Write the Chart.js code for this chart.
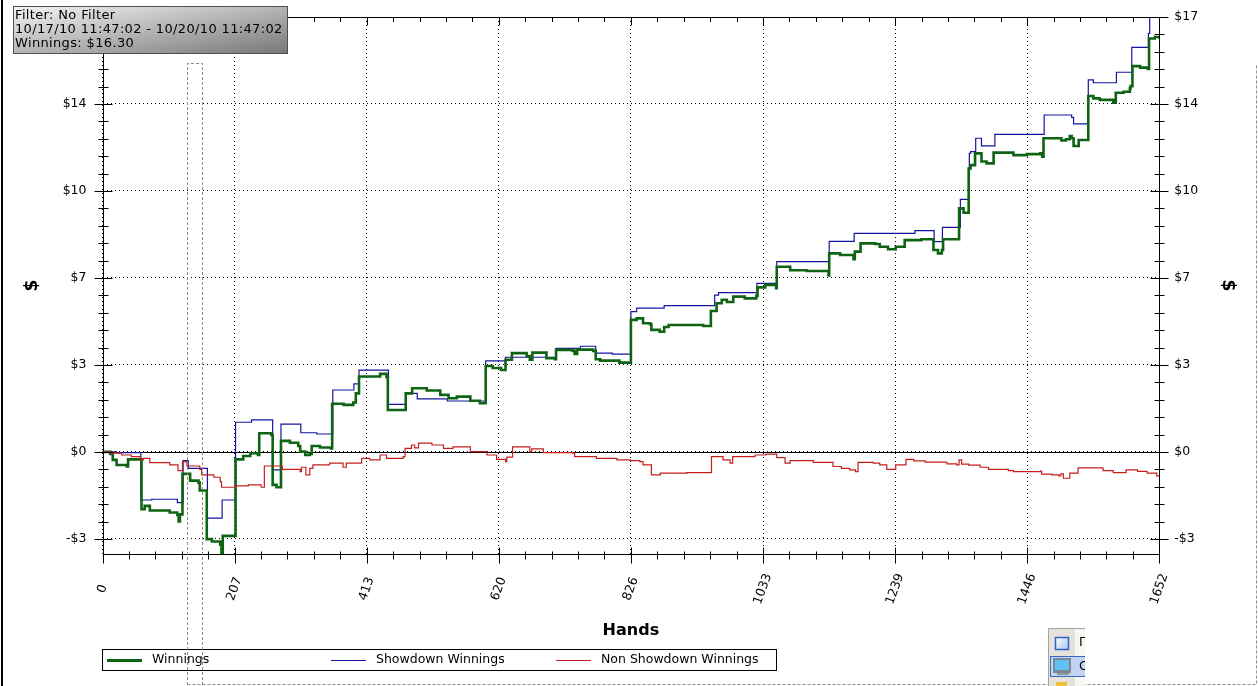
<!DOCTYPE html>
<html lang="en">
<head>
<meta charset="utf-8">
<title>Winnings graph</title>
<script src="https://cdn.jsdelivr.net/npm/chart.js"></script>
<style>
  html, body { margin: 0; padding: 0; background: #fff; }
  #wrap { position: relative; width: 1258px; height: 686px; }
</style>
</head>
<body>
<div id="wrap"><canvas id="graph"></canvas></div>
<script>
// values: hand number where a level starts, dollars
const winHands = [0, 8, 12, 16, 22, 38, 40, 61, 66, 74, 105, 117, 119, 121, 125, 137, 150, 152, 163, 171,
  184, 186, 188, 208, 220, 231, 243, 245, 264, 266, 272, 279, 293, 306, 309, 317, 324, 327, 340, 357,
  359, 377, 392, 396, 401, 434, 444, 446, 474, 484, 507, 528, 541, 554, 575, 590, 599, 610, 623, 630,
  640, 663, 668, 672, 694, 707, 709, 735, 738, 742, 767, 771, 778, 808, 826, 835, 845, 856, 858, 871,
  878, 885, 913, 939, 951, 960, 968, 976, 986, 1004, 1022, 1024, 1036, 1053, 1054, 1075, 1101, 1135, 1136, 1153,
  1174, 1176, 1185, 1208, 1215, 1228, 1240, 1254, 1280, 1299, 1306, 1312, 1314, 1339, 1346, 1354, 1357, 1364, 1374, 1382,
  1393, 1424, 1445, 1466, 1469, 1471, 1499, 1506, 1512, 1515, 1518, 1526, 1541, 1549, 1559, 1580, 1584, 1596, 1606, 1607,
  1610, 1622, 1634, 1636, 1645, 1652];
const winValues = [0, 0, -0.08, -0.31, -0.51, -0.57, -0.29, -2.24, -2.11, -2.29, -2.37, -2.46, -2.72, -2.44, -0.86, -1.12, -1.2, -1.51, -3.41, -3.5,
  -3.63, -3.96, -3.28, -0.29, -0.16, -0.05, -0.12, 0.73, 0.66, -1.29, -1.38, 0.43, 0.36, 0.23, 0.01, -0.12, -0.08, 0.23, 0.17, 0.14,
  1.88, 1.84, 1.93, 2.29, 2.95, 3.05, 2.93, 1.64, 2.29, 2.49, 2.4, 2.23, 2.1, 2.16, 2.0, 1.9, 3.36, 3.28, 3.2, 3.6,
  3.86, 3.75, 3.6, 3.88, 3.66, 3.62, 3.99, 3.95, 3.83, 4.0, 3.95, 3.62, 3.57, 3.49, 5.16, 5.22, 5.03, 4.99, 4.77, 4.7,
  4.88, 4.96, 4.96, 4.92, 5.51, 5.81, 5.95, 5.86, 6.07, 6.0, 6.1, 6.43, 6.53, 6.4, 7.24, 7.1, 7.07, 6.9, 7.76, 7.7,
  7.53, 7.83, 8.15, 8.13, 8.02, 7.92, 8.02, 8.28, 8.31, 7.89, 7.76, 7.89, 8.31, 9.52, 9.35, 11.08, 11.21, 11.67, 11.35, 11.28,
  11.7, 11.6, 11.64, 11.67, 11.54, 12.26, 12.17, 12.22, 12.35, 12.26, 11.96, 12.19, 13.91, 13.82, 13.76, 13.65, 14.04, 14.08, 14.21, 14.3,
  15.08, 15.02, 14.97, 16.16, 16.22, 16.15];

const sdHands = [0, 22, 60, 77, 117, 126, 134, 164, 187, 208, 233, 266, 279, 310, 335, 360, 393, 401, 447, 474,
  492, 539, 599, 630, 709, 747, 771, 797, 826, 835, 878, 957, 963, 1023, 1054, 1136, 1175, 1270, 1300, 1313,
  1341, 1355, 1357, 1365, 1374, 1395, 1472, 1515, 1518, 1541, 1549, 1585, 1609, 1635, 1637, 1652];
const sdValues = [0, -0.03, -1.88, -1.85, -1.98, -0.34, -0.64, -2.59, -1.88, 1.16, 1.25, -0.7, 1.09, 0.75, 0.7, 2.42, 2.66, 3.2, 1.86, 2.29,
  2.07, 1.99, 3.56, 3.7, 4.05, 4.13, 3.86, 3.82, 5.48, 5.62, 5.72, 6.13, 6.23, 6.59, 7.44, 8.23, 8.54, 8.65, 8.22, 8.78,
  9.87, 11.67, 11.74, 12.26, 11.96, 12.41, 13.17, 13.08, 12.82, 14.54, 14.43, 14.84, 15.81, 16.36, 17, 17];

const nsdHands = [0, 11, 30, 45, 59, 64, 74, 105, 118, 125, 132, 152, 155, 174, 184, 186, 208, 228, 248, 253,
  281, 309, 311, 318, 324, 329, 355, 376, 381, 405, 418, 434, 444, 470, 473, 483, 488, 494, 515, 533,
  548, 575, 601, 616, 630, 632, 641, 668, 671, 689, 735, 738, 772, 804, 825, 840, 845, 858, 872, 913,
  952, 970, 981, 985, 1020, 1037, 1054, 1067, 1075, 1111, 1142, 1155, 1168, 1177, 1181, 1205, 1215, 1226, 1240, 1256,
  1268, 1286, 1320, 1335, 1339, 1343, 1354, 1372, 1385, 1416, 1424, 1466, 1468, 1484, 1495, 1498, 1502, 1512, 1525, 1564,
  1580, 1600, 1618, 1633, 1648, 1652];
const nsdValues = [0, -0.05, -0.12, -0.18, -0.31, -0.25, -0.42, -0.51, -0.73, -0.39, -0.55, -0.68, -0.9, -0.99, -1.16, -1.38, -1.33, -1.29, -1.38, -0.55,
  -0.68, -0.77, -0.6, -0.9, -0.64, -0.51, -0.44, -0.6, -0.44, -0.25, -0.31, -0.12, -0.25, -0.18, 0.14, 0.27, 0.16, 0.34, 0.27, 0.14,
  0.2, 0.01, -0.12, -0.29, -0.38, -0.2, 0.2, 0.01, 0.12, -0.03, -0.05, -0.18, -0.25, -0.31, -0.34, -0.38, -0.51, -0.9, -0.83, -0.81,
  -0.18, -0.31, -0.44, -0.18, -0.12, -0.09, -0.22, -0.44, -0.34, -0.41, -0.57, -0.64, -0.7, -0.77, -0.41, -0.44, -0.51, -0.68, -0.51, -0.29,
  -0.35, -0.4, -0.47, -0.51, -0.31, -0.48, -0.52, -0.6, -0.68, -0.73, -0.77, -0.75, -0.87, -0.9, -0.94, -0.86, -1.03, -0.83, -0.62, -0.73,
  -0.81, -0.7, -0.76, -0.83, -0.94, -0.94];

const xTickValues = [0, 206.5, 413, 619.5, 826, 1032.5, 1239, 1445.5, 1652];
const xTickLabels = ['0', '207', '413', '620', '826', '1033', '1239', '1446', '1652'];
const yTickValues = [-3.4, 0, 3.4, 6.8, 10.2, 13.6, 17];
const yTickLabels = ['-$3', '$0', '$3', '$7', '$10', '$14', '$17'];
const minorPerMajor = 5;

const seriesNames = ['Winnings', 'Showdown Winnings', 'Non Showdown Winnings'];
const infoLines = ['Filter: No Filter', '10/17/10 11:47:02 - 10/20/10 11:47:02', 'Winnings: $16.30'];

const FONT = '"DejaVu Sans", Verdana, sans-serif';
const GREEN = '#0f6414', BLUE = '#1414a0', RED = '#c41e1e';

function points(xs, ys) { return xs.map((x, i) => ({ x: x, y: ys[i] })); }
function fixedTicks(values) { return scale => { scale.ticks = values.map(v => ({ value: v })); }; }

const decorations = {
  id: 'decorations',
  beforeDraw(chart) {
    const ctx = chart.ctx;
    ctx.save();
    ctx.fillStyle = '#fff';
    ctx.fillRect(0, 0, chart.width, chart.height);
    ctx.restore();
  },
  beforeDatasetsDraw(chart) {
    // solid zero line
    const { ctx, chartArea: a, scales: { y } } = chart;
    const py = Math.round(y.getPixelForValue(0)) + 0.5;
    ctx.save();
    ctx.strokeStyle = '#000';
    ctx.lineWidth = 1;
    ctx.beginPath();
    ctx.moveTo(a.left, py);
    ctx.lineTo(a.right, py);
    ctx.stroke();
    ctx.restore();
  },
  afterDraw(chart) {
    const { ctx, chartArea: a, scales: { x, y } } = chart;
    const L = Math.round(a.left) + 0.5, R = Math.round(a.right) + 0.5;
    const T = Math.round(a.top) + 0.5, B = Math.round(a.bottom) + 0.5;
    ctx.save();

    // plot frame
    ctx.strokeStyle = '#000';
    ctx.lineWidth = 1;
    ctx.strokeRect(L, T, R - L, B - T);

    // major and minor tick marks
    ctx.beginPath();
    const yStep = (yTickValues[1] - yTickValues[0]) / minorPerMajor;
    for (let k = Math.ceil(y.min / yStep - 1e-6); k * yStep <= y.max + 1e-6; k++) {
      const py = Math.round(y.getPixelForValue(k * yStep)) + 0.5;
      const len = k % minorPerMajor === 0 ? 9 : 5;
      ctx.moveTo(L - len, py); ctx.lineTo(L + len, py);
      ctx.moveTo(R - len, py); ctx.lineTo(R + len, py);
    }
    const xStep = (xTickValues[1] - xTickValues[0]) / minorPerMajor;
    for (let k = 0; k * xStep <= x.max + 1e-6; k++) {
      const px = Math.round(x.getPixelForValue(k * xStep)) + 0.5;
      const major = k % minorPerMajor === 0;
      ctx.moveTo(px, B - (major ? 7 : 3)); ctx.lineTo(px, B + (major ? 9 : 5));
      ctx.moveTo(px, T); ctx.lineTo(px, T + (major ? 8 : 4.5));
    }
    ctx.stroke();

    // rotated hand labels
    ctx.fillStyle = '#000';
    ctx.font = '12.5px ' + FONT;
    ctx.textAlign = 'center';
    ctx.textBaseline = 'middle';
    x.ticks.forEach((t, i) => {
      ctx.save();
      ctx.translate(x.getPixelForValue(t.value), 589);
      ctx.rotate(-70 * Math.PI / 180);
      ctx.fillText(xTickLabels[i], 0, 0);
      ctx.restore();
    });

    // legend box
    ctx.strokeStyle = '#000';
    ctx.strokeRect(102.5, 649.5, 674, 21);
    const slots = [107, 331, 556];
    ctx.textAlign = 'left';
    chart.data.datasets.forEach((ds, i) => {
      ctx.beginPath();
      ctx.strokeStyle = ds.borderColor;
      ctx.lineWidth = i === 0 ? 3 : 1;
      ctx.moveTo(slots[i], 660.5);
      ctx.lineTo(slots[i] + 35, 660.5);
      ctx.stroke();
      ctx.fillStyle = '#000';
      ctx.fillText(ds.label, slots[i] + 45, 660);
    });

    // window edge on the left
    ctx.fillStyle = '#000';
    ctx.fillRect(1, 0, 2, chart.height);

    // dotted focus rectangle
    ctx.strokeStyle = '#8c8c8c';
    ctx.lineWidth = 1;
    ctx.setLineDash([3, 2]);
    ctx.beginPath();
    ctx.moveTo(187.5, 685); ctx.lineTo(187.5, 63.5); ctx.lineTo(202.5, 63.5); ctx.lineTo(202.5, 685);
    ctx.moveTo(187.5, 684.5); ctx.lineTo(1256.5, 684.5); ctx.lineTo(1256.5, 63.5);
    ctx.stroke();
    ctx.setLineDash([]);

    // info box
    const g = ctx.createLinearGradient(13, 6, 29, 99);
    g.addColorStop(0, '#f4f4f4');
    g.addColorStop(1, '#767676');
    ctx.fillStyle = g;
    ctx.fillRect(13, 6, 275, 48);
    ctx.strokeStyle = '#505050';
    ctx.strokeRect(13.5, 6.5, 274, 47);
    ctx.fillStyle = '#000';
    ctx.font = '13px ' + FONT;
    ctx.textBaseline = 'alphabetic';
    if ('letterSpacing' in ctx) ctx.letterSpacing = '0.35px';
    infoLines.forEach((s, i) => ctx.fillText(s, 15, 18.5 + i * 14.2));
    if ('letterSpacing' in ctx) ctx.letterSpacing = '0px';

    // taskbar fragment at the bottom right
    ctx.save();
    ctx.beginPath();
    ctx.rect(1048, 628, 37, 58);
    ctx.clip();
    ctx.fillStyle = '#f7f6f2';
    ctx.fillRect(1048, 628, 37, 58);
    ctx.fillStyle = '#e4e2da';
    ctx.fillRect(1049, 629, 26, 57);
    ctx.strokeStyle = '#a2a2a2';
    ctx.strokeRect(1048.5, 628.5, 40, 60);
    const wg = ctx.createLinearGradient(1055, 637, 1068, 649);
    wg.addColorStop(0, '#ffffff');
    wg.addColorStop(1, '#a9c8ef');
    ctx.fillStyle = wg;
    ctx.fillRect(1055, 637, 13, 12);
    ctx.strokeStyle = '#2b64c8';
    ctx.lineWidth = 1.5;
    ctx.strokeRect(1055.5, 637.5, 13, 12);
    ctx.lineWidth = 1;
    ctx.fillStyle = '#c3d3f1';
    ctx.fillRect(1050, 656, 36, 21);
    ctx.strokeStyle = '#3469c4';
    ctx.strokeRect(1050.5, 656.5, 40, 20);
    ctx.fillStyle = '#7b8793';
    ctx.fillRect(1053, 658, 18, 15);
    ctx.fillStyle = '#5fc0f2';
    ctx.fillRect(1055, 660, 14, 10);
    ctx.fillStyle = '#8e98a3';
    ctx.fillRect(1057, 673, 12, 2);
    ctx.fillStyle = '#f0c23a';
    ctx.fillRect(1056, 682, 11, 4);
    ctx.fillStyle = '#000';
    ctx.font = '12.5px ' + FONT;
    ctx.textBaseline = 'middle';
    ctx.fillText('Г', 1079, 643);
    ctx.fillText('С', 1079, 667);
    ctx.restore();

    ctx.restore();
  }
};

const axisTitleFont = { family: FONT, size: 17, weight: 'bold' };
const tickFont = { family: FONT, size: 12.5 };
function noEdgePadding(s) { s.paddingTop = 0; s.paddingBottom = 0; s.paddingLeft = 0; s.paddingRight = 0; }

new Chart(document.getElementById('graph'), {
  type: 'line',
  data: {
    datasets: [{
      label: seriesNames[0],
      data: points(winHands, winValues),
      borderColor: GREEN,
      borderWidth: 2.6,
      order: 1
    }, {
      label: seriesNames[1],
      data: points(sdHands, sdValues),
      borderColor: BLUE,
      borderWidth: 1.2,
      order: 2
    }, {
      label: seriesNames[2],
      data: points(nsdHands, nsdValues),
      borderColor: RED,
      borderWidth: 1.2,
      order: 0
    }]
  },
  options: {
    responsive: true,
    maintainAspectRatio: false,
    animation: false,
    layout: { padding: { top: 17, left: 0, right: 0, bottom: 0 } },
    datasets: { line: { stepped: 'before', pointRadius: 0, tension: 0, fill: false } },
    plugins: { legend: { display: false }, tooltip: { enabled: false } },
    scales: {
      x: {
        type: 'linear',
        min: 0,
        max: 1652,
        afterBuildTicks: fixedTicks(xTickValues),
        afterFit: s => { s.height = 132; noEdgePadding(s); },
        ticks: { display: false },
        grid: { color: '#000', lineWidth: 1, drawTicks: false },
        border: { display: false, dash: [1, 3] },
        title: {
          display: true, text: 'Hands', color: '#000',
          font: { family: FONT, size: 16, weight: 'bold' },
          padding: { top: 0, bottom: 46 }
        }
      },
      y: {
        position: 'left',
        min: -3.99,
        max: 17,
        afterBuildTicks: fixedTicks(yTickValues),
        afterFit: s => { s.width = 102.5; noEdgePadding(s); },
        ticks: { color: '#000', font: tickFont, padding: 16, callback: (v, i) => yTickLabels[i] },
        grid: { color: '#000', lineWidth: 1, drawTicks: false },
        border: { display: false, dash: [1, 3] },
        title: { display: true, text: '$', color: '#000', font: axisTitleFont, padding: { top: 22.8, bottom: 0 } }
      },
      y2: {
        position: 'right',
        min: -3.99,
        max: 17,
        afterBuildTicks: fixedTicks(yTickValues),
        afterFit: s => { s.width = 98.7; noEdgePadding(s); },
        ticks: { color: '#000', font: tickFont, padding: 15, callback: (v, i) => yTickLabels[i] },
        grid: { drawOnChartArea: false, drawTicks: false },
        border: { display: false },
        title: { display: true, text: '$', color: '#000', font: axisTitleFont, padding: { top: 20.8, bottom: 0 } }
      }
    }
  },
  plugins: [decorations]
});
</script>
</body>
</html>
